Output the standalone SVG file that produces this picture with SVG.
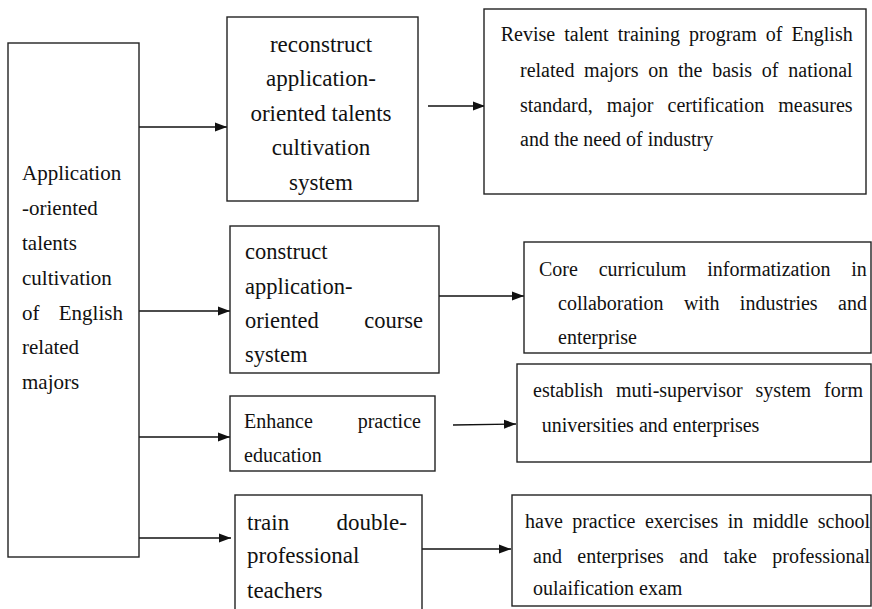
<svg xmlns="http://www.w3.org/2000/svg" width="872" height="609" viewBox="0 0 872 609">
<style>
.box{fill:#fff;stroke:#222;stroke-width:1.4}
text{font-family:'Liberation Serif',serif;fill:#111}
.l{font-size:21px}
.m{font-size:23px}
.s{font-size:20px}
.k{font-size:22.5px}
.c{text-anchor:middle}
.ln{stroke:#111;stroke-width:1.4;fill:none;marker-end:url(#ah)}
</style>
<defs>
<marker id="ah" markerUnits="userSpaceOnUse" markerWidth="12" markerHeight="10" refX="12" refY="5" orient="auto">
<path d="M0,0.5 L12,5 L0,9.5 Z" fill="#111"/>
</marker>
</defs>
<rect width="872" height="609" fill="#fff"/>
<g id="connectors">
<line class="ln" x1="135" y1="127" x2="227" y2="127"/>
<line class="ln" x1="134" y1="311" x2="230" y2="311"/>
<line class="ln" x1="139" y1="437" x2="230" y2="437"/>
<line class="ln" x1="139" y1="538" x2="231" y2="538"/>
<line class="ln" x1="428" y1="106" x2="485" y2="106"/>
<line class="ln" x1="439" y1="296" x2="524" y2="296"/>
<line class="ln" x1="453" y1="425" x2="516" y2="424"/>
<line class="ln" x1="422" y1="549" x2="511" y2="549"/>
</g>
<g id="root" font-family="Liberation Serif, serif">
<rect class="box" x="8" y="43" width="131" height="514"/>
<text class="l" x="22" y="180">Application</text>
<text class="l" x="22" y="215">-oriented</text>
<text class="l" x="22" y="250">talents</text>
<text class="l" x="22" y="285">cultivation</text>
<text class="l" x="22" y="320" word-spacing="14">of English</text>
<text class="l" x="22" y="354">related</text>
<text class="l" x="22" y="389">majors</text>
</g>
<g id="n1" font-family="Liberation Serif, serif">
<rect class="box" x="227" y="17" width="191" height="184"/>
<text class="m c" x="321" y="52">reconstruct</text>
<text class="m c" x="321" y="86">application-</text>
<text class="m c" x="321" y="121">oriented talents</text>
<text class="m c" x="321" y="155">cultivation</text>
<text class="m c" x="321" y="190">system</text>
</g>
<g id="n2" font-family="Liberation Serif, serif">
<rect class="box" x="230" y="226" width="209" height="147"/>
<text class="k" x="245" y="259">construct</text>
<text class="k" x="245" y="294">application-</text>
<text class="k" x="245" y="328" word-spacing="40">oriented course</text>
<text class="k" x="245" y="362">system</text>
</g>
<g id="n3" font-family="Liberation Serif, serif">
<rect class="box" x="230" y="396" width="205" height="75"/>
<text class="s" x="244" y="428" word-spacing="39.8">Enhance practice</text>
<text class="s" x="244" y="462">education</text>
</g>
<g id="n4" font-family="Liberation Serif, serif">
<rect class="box" x="235" y="495" width="187" height="120"/>
<text class="m" x="247" y="530" word-spacing="41.7">train double-</text>
<text class="m" x="247" y="563">professional</text>
<text class="m" x="247" y="598">teachers</text>
</g>
<g id="r1" font-family="Liberation Serif, serif">
<rect class="box" x="484" y="9" width="382" height="185"/>
<text class="s" x="500.7" y="41" word-spacing="4.08">Revise talent training program of English</text>
<text class="s" x="520" y="77" word-spacing="4.72">related majors on the basis of national</text>
<text class="s" x="520" y="112" word-spacing="9.07">standard, major certification measures</text>
<text class="s" x="520" y="146">and the need of industry</text>
</g>
<g id="r2" font-family="Liberation Serif, serif">
<rect class="box" x="524" y="242" width="347" height="111"/>
<text class="s" x="539" y="276" word-spacing="15.8">Core curriculum informatization in</text>
<text class="s" x="558" y="310" word-spacing="15.4">collaboration with industries and</text>
<text class="s" x="558" y="344">enterprise</text>
</g>
<g id="r3" font-family="Liberation Serif, serif">
<rect class="box" x="517" y="364" width="354" height="98"/>
<text class="s" x="533" y="397" word-spacing="7.97">establish muti-supervisor system form</text>
<text class="s" x="541.7" y="432">universities and enterprises</text>
</g>
<g id="r4" font-family="Liberation Serif, serif">
<rect class="box" x="512" y="495" width="359" height="111"/>
<text class="s" x="525" y="528" word-spacing="4.46">have practice exercises in middle school</text>
<text class="s" x="533" y="563" word-spacing="10.4">and enterprises and take professional</text>
<text class="s" x="533" y="595">oulaification exam</text>
</g>
</svg>
